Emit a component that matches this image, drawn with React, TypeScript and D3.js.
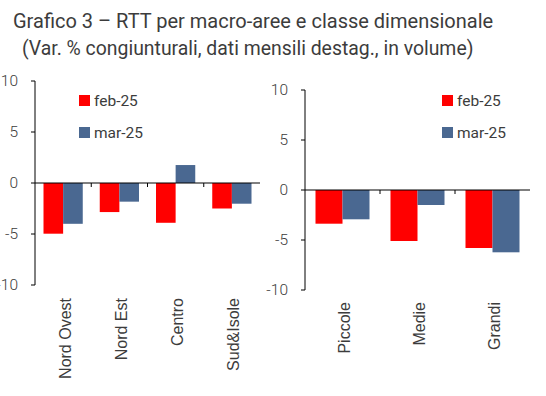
import React from "react";
import * as d3 from "d3";

const titleLines = [
  "Grafico 3 – RTT per macro-aree e classe dimensionale",
  "(Var. % congiunturali, dati mensili destag., in volume)",
];
const series = ["feb-25", "mar-25"];
const colors = ["#FF0000", "#4A6891"];

const areaCats = ["Nord Ovest", "Nord Est", "Centro", "Sud&Isole"];
const areaFeb = [-4.97, -2.85, -3.9, -2.5];
const areaMar = [-4.0, -1.83, 1.76, -2.03];

const sizeCats = ["Piccole", "Medie", "Grandi"];
const sizeFeb = [-3.37, -5.1, -5.8];
const sizeMar = [-2.93, -1.5, -6.23];

const yTicks = [10, 5, 0, -5, -10];

const FONT = "Roboto, 'Noto Sans', sans-serif";
const CAT_FONT = "'Liberation Sans', Arial, sans-serif";
const TEXT = "#3c3c3c";

type PanelProps = {
  cats: string[];
  feb: number[];
  mar: number[];
  x0: number;
  x1: number;
  yTop: number;
  yBot: number;
  innerPad: number;
  labelY: number;
  tickLabelX: number;
  legendX: number;
};

function Panel(p: PanelProps) {
  const y = d3.scaleLinear().domain([-10, 10]).range([p.yBot, p.yTop]);
  const x = d3.scaleBand<string>().domain(p.cats).range([p.x0, p.x1]).padding(0);
  const xs = d3
    .scaleBand<string>()
    .domain(series)
    .range([p.innerPad, x.bandwidth() - p.innerPad])
    .padding(0);
  const vals = [p.feb, p.mar];
  const y0 = y(0);
  return (
    <g>
      {p.cats.map((c, i) =>
        series.map((s, k) => {
          const v = vals[k][i];
          return (
            <rect
              key={c + s}
              x={(x(c) as number) + (xs(s) as number)}
              width={xs.bandwidth()}
              y={Math.min(y(v), y0)}
              height={Math.abs(y(v) - y0)}
              fill={colors[k]}
            />
          );
        })
      )}
      {/* y axis */}
      <line x1={p.x0} x2={p.x0} y1={y(10)} y2={y(-10)} stroke="#000" strokeWidth={1} />
      {yTicks.map((t) => (
        <g key={t}>
          <line x1={p.x0 - 4} x2={p.x0} y1={y(t)} y2={y(t)} stroke="#000" />
          <text
            x={p.tickLabelX}
            y={y(t)}
            textAnchor="end"
            dominantBaseline="central"
            fontSize={15.5}
            fontWeight={300}
            fill={TEXT}
            fontFamily={FONT}
          >
            {t}
          </text>
        </g>
      ))}
      {/* zero line */}
      <line x1={p.x0} x2={p.x1} y1={y0} y2={y0} stroke="#000" />
      {p.cats.slice(1).map((c) => (
        <line key={c} x1={x(c) as number} x2={x(c) as number} y1={y0} y2={y0 + 4} stroke="#000" />
      ))}
      {/* category labels */}
      {p.cats.map((c) => (
        <text
          key={c}
          transform={`translate(${(x(c) as number) + x.bandwidth() / 2 + 2},${p.labelY}) rotate(-90)`}
          textAnchor="end"
          dominantBaseline="central"
          fontSize={16}
          fill={TEXT}
          fontFamily={CAT_FONT}
        >
          {c}
        </text>
      ))}
      {/* legend */}
      {series.map((s, k) => (
        <g key={s} transform={`translate(${p.legendX},${95 + k * 32})`}>
          <rect x={0} y={0} width={11} height={11} fill={colors[k]} />
          <text x={15} y={6} dominantBaseline="central" fontSize={15.5} fill={TEXT} fontFamily={FONT}>
            {s}
          </text>
        </g>
      ))}
    </g>
  );
}

export default function App() {
  return (
    <svg
      width={546}
      height={396}
      style={{ position: "absolute", left: 0, top: 0, background: "#fff" }}
    >
      <rect width={546} height={396} fill="#fff" />
      <text x={13} y={28} fontSize={20} fill={TEXT} fontFamily={FONT}>
        {titleLines[0]}
      </text>
      <text x={22} y={55} fontSize={19.4} fill={TEXT} fontFamily={FONT}>
        {titleLines[1]}
      </text>
      <Panel
        cats={areaCats}
        feb={areaFeb}
        mar={areaMar}
        x0={35}
        x1={260}
        yTop={81}
        yBot={285}
        innerPad={8.5}
        labelY={298}
        tickLabelX={18}
        legendX={79}
      />
      <Panel
        cats={sizeCats}
        feb={sizeFeb}
        mar={sizeMar}
        x0={305}
        x1={530}
        yTop={90}
        yBot={290}
        innerPad={10.5}
        labelY={302}
        tickLabelX={288}
        legendX={442}
      />
    </svg>
  );
}
